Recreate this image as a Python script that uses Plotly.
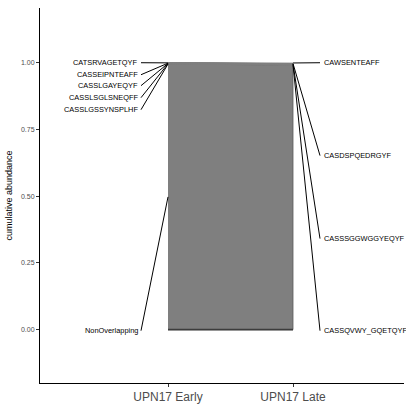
import numpy as np
import plotly.graph_objects as go

# Clonotype abundances in two timepoints
samples = ["UPN17 Early", "UPN17 Late"]
clones = ["NonOverlapping", "CASSLGSSYNSPLHF", "CASSLSGLSNEQFF", "CASSLGAYEQYF",
          "CASSEIPNTEAFF", "CATSRVAGETQYF", "CASSQVWY_GQETQYF", "CASSSGGWGGYEQYF",
          "CASDSPQEDRGYF", "CAWSENTEAFF"]
early = [0.9945, 0.0011, 0.0011, 0.0011, 0.0011, 0.0011, 0.0, 0.0, 0.0, 0.0]
late = [0.9920, 0.0, 0.0, 0.0, 0.0, 0.0, 0.0020, 0.0020, 0.0020, 0.0020]

# Label placement (repelled text positions)
left_labels = ["CATSRVAGETQYF", "CASSEIPNTEAFF", "CASSLGAYEQYF", "CASSLSGLSNEQFF",
               "CASSLGSSYNSPLHF", "NonOverlapping"]
left_label_y = [1.0, 0.955, 0.914, 0.869, 0.824, -0.004]
right_labels = ["CAWSENTEAFF", "CASDSPQEDRGYF", "CASSSGGWGGYEQYF", "CASSQVWY_GQETQYF"]
right_label_y = [1.0, 0.652, 0.341, -0.004]

xs = [1, 2]
lo_e = np.concatenate([[0], np.cumsum(early)[:-1]])
hi_e = np.cumsum(early)
lo_l = np.concatenate([[0], np.cumsum(late)[:-1]])
hi_l = np.cumsum(late)

t = np.linspace(0, 1, 40)
s = t * t * (3 - 2 * t)
xc = xs[0] + (xs[1] - xs[0]) * t

fig = go.Figure()
for i, name in enumerate(clones):
    lower = lo_e[i] + (lo_l[i] - lo_e[i]) * s
    upper = hi_e[i] + (hi_l[i] - hi_e[i]) * s
    px = np.concatenate([xc, xc[::-1]])
    py = np.concatenate([lower, upper[::-1]])
    is_non = name == "NonOverlapping"
    fig.add_trace(go.Scatter(
        x=px, y=py, mode="lines", fill="toself",
        fillcolor="#7f7f7f",
        line=dict(color="#5a5a5a" if is_non else "#7f7f7f", width=0.8),
        hoverinfo="skip", showlegend=False))

# dark baseline edge along the bottom of the ribbon
fig.add_trace(go.Scatter(x=xc, y=lo_e[0] + (lo_l[0] - lo_e[0]) * s, mode="lines",
                         line=dict(color="#3c3c3c", width=1.6),
                         hoverinfo="skip", showlegend=False))

mid_e = dict(zip(clones, (lo_e + hi_e) / 2))
mid_l = dict(zip(clones, (lo_l + hi_l) / 2))

x_left_text, x_left_line = 0.776, 0.784
x_right_line, x_right_text = 2.216, 2.232

for name, ly in zip(left_labels, left_label_y):
    fig.add_shape(type="line", x0=x_left_line, y0=ly, x1=1, y1=mid_e[name],
                  line=dict(color="black", width=1))
    fig.add_annotation(x=x_left_text, y=ly, text=name, showarrow=False,
                       xanchor="right", yanchor="middle",
                       font=dict(size=7.4, color="black"))
for name, ly in zip(right_labels, right_label_y):
    fig.add_shape(type="line", x0=2, y0=mid_l[name], x1=x_right_line, y1=ly,
                  line=dict(color="black", width=1))
    fig.add_annotation(x=x_right_text, y=ly, text=name, showarrow=False,
                       xanchor="left", yanchor="middle",
                       font=dict(size=7.4, color="black"))

fig.update_layout(
    width=406, height=408,
    margin=dict(l=40, r=2, t=8, b=25),
    plot_bgcolor="white", paper_bgcolor="white",
    font=dict(family="Liberation Sans, Arial, sans-serif"),
    xaxis=dict(range=[-0.024, 2.888], tickvals=xs, ticktext=samples,
               showgrid=False, zeroline=False, showline=True,
               linecolor="black", linewidth=1, ticks="outside", ticklen=3,
               tickcolor="#333333", tickfont=dict(size=12, color="#4d4d4d")),
    yaxis=dict(range=[-0.2, 1.205], tickvals=[0, 0.25, 0.5, 0.75, 1.0],
               ticktext=["0.00", "0.25", "0.50", "0.75", "1.00"],
               showgrid=False, zeroline=False, showline=True,
               linecolor="black", linewidth=1, ticks="outside", ticklen=3,
               tickcolor="#333333", tickfont=dict(size=7, color="#4d4d4d"),
               title=dict(text="cumulative abundance", font=dict(size=9, color="black"),
                          standoff=6)),
)

fig.write_html("out.html")
